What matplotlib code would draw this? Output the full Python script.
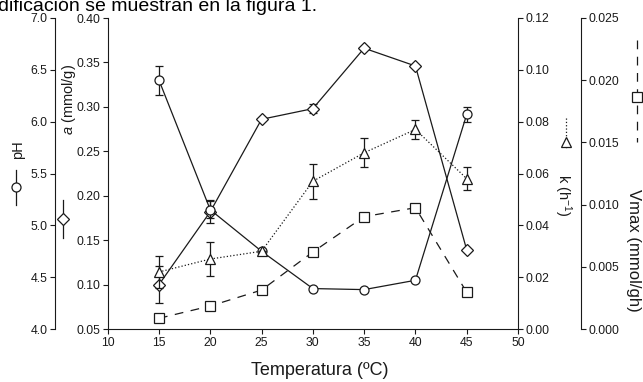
import matplotlib
matplotlib.use("Agg")
import matplotlib.pyplot as plt
from matplotlib.lines import Line2D

plt.rcParams['font.family'] = ['Liberation Sans', 'DejaVu Sans']
plt.rcParams['mathtext.fontset'] = 'custom'
plt.rcParams['mathtext.rm'] = 'Liberation Sans'
plt.rcParams['mathtext.it'] = 'Liberation Sans:italic'

# data
temp = [15, 20, 25, 30, 35, 40, 45]
ph = [6.40, 5.15, 4.75, 4.39, 4.38, 4.47, 6.07]
ph_err = [0.14, 0.08, 0.0, 0.0, 0.0, 0.0, 0.07]
a_val = [0.100, 0.182, 0.286, 0.298, 0.366, 0.346, 0.139]
a_err = [0.021, 0.013, 0.0, 0.005, 0.0, 0.0, 0.0]
k_val = [0.022, 0.027, 0.030, 0.057, 0.068, 0.077, 0.058]
k_err = [0.006, 0.0064, 0.0, 0.0067, 0.0056, 0.0035, 0.0045]
vmax = [0.00086, 0.00185, 0.00313, 0.00619, 0.00903, 0.00975, 0.00295]

W, H = 643, 382
INK = '#1a1a1a'


def fx(px):
    return px / W


def fy(py):
    return 1 - py / H


fig = plt.figure(figsize=(6.43, 3.82), dpi=100)
ax = fig.add_axes([fx(107.7), fy(329), fx(518) - fx(107.7), fy(18) - fy(329)])
ax_ph = ax.twinx()
ax_k = ax.twinx()
ax_v = ax.twinx()

# spine layout
for a in (ax, ax_ph, ax_k, ax_v):
    for s in a.spines.values():
        s.set_visible(False)
    a.tick_params(labelsize=8.8, length=3.5, width=0.8, colors=INK, pad=2)

ax.spines['left'].set_visible(True)
ax.spines['bottom'].set_visible(True)
ax_ph.spines['left'].set_visible(True)
ax_ph.spines['left'].set_position(('axes', -0.128))
ax_ph.yaxis.set_ticks_position('left')
ax_ph.yaxis.set_label_position('left')
ax_k.spines['right'].set_visible(True)
ax_v.spines['right'].set_visible(True)
ax_v.spines['right'].set_position(('axes', 1.153))
for a in (ax, ax_ph, ax_k, ax_v):
    for s in a.spines.values():
        s.set_linewidth(0.8)
        s.set_color(INK)

ax.set_xlim(10, 50)
ax.set_xticks(range(10, 51, 5))
ax.set_ylim(0.05, 0.40)
ax.set_yticks([0.05, 0.10, 0.15, 0.20, 0.25, 0.30, 0.35, 0.40])
ax.set_yticklabels([f'{v:.2f}' for v in ax.get_yticks()])
ax_ph.set_ylim(4.0, 7.0)
ax_ph.set_yticks([4.0, 4.5, 5.0, 5.5, 6.0, 6.5, 7.0])
ax_ph.set_yticklabels([f'{v:.1f}' for v in ax_ph.get_yticks()])
ax_k.set_ylim(0, 0.12)
ax_k.set_yticks([0, 0.02, 0.04, 0.06, 0.08, 0.10, 0.12])
ax_k.set_yticklabels([f'{v:.2f}' for v in ax_k.get_yticks()])
ax_v.set_ylim(0, 0.025)
ax_v.set_yticks([0, 0.005, 0.010, 0.015, 0.020, 0.025])
ax_v.set_yticklabels([f'{v:.3f}' for v in ax_v.get_yticks()])

ax.set_xlabel('Temperatura (ºC)', fontsize=13, color=INK, labelpad=12)
ax.xaxis.set_label_coords((320 - 107.7) / 410.3, -0.105)

mk = dict(mfc='white', mec=INK, mew=0.9, color=INK, lw=0.9,
          ecolor=INK, elinewidth=0.9, capsize=3.2, capthick=0.9)
ax_v.plot(temp, vmax, marker='s', ms=7, ls=(0, (7, 6)), color=INK, lw=0.9,
          mfc='white', mec=INK, mew=0.9)
ax_k.errorbar(temp, k_val, yerr=k_err, marker='^', ms=7, ls=':', **mk)
ax.errorbar(temp, a_val, yerr=a_err, marker='D', ms=6.3, ls='-', **mk)
ax_ph.errorbar(temp, ph, yerr=ph_err, marker='o', ms=6.5, ls='-', **mk)

# axis titles with their series symbols
fig.text(fx(18), fy(150), 'pH', rotation=90, ha='center', va='center', fontsize=10.5, color=INK)
fig.add_artist(Line2D([fx(16), fx(16)], [fy(170), fy(205)], transform=fig.transFigure,
                      color=INK, lw=0.9, marker=None))
fig.add_artist(Line2D([fx(16)], [fy(187)], transform=fig.transFigure, marker='o', ms=6.5,
                      mfc='white', mec=INK, mew=0.9, ls='none'))

fig.text(fx(69), fy(100), '$a$ (mmol/g)', rotation=90, ha='center', va='center', fontsize=10.5, color=INK)
fig.add_artist(Line2D([fx(63), fx(63)], [fy(200), fy(238)], transform=fig.transFigure,
                      color=INK, lw=0.9))
fig.add_artist(Line2D([fx(63)], [fy(219)], transform=fig.transFigure, marker='D', ms=6.3,
                      mfc='white', mec=INK, mew=0.9, ls='none'))

fig.text(fx(563), fy(195), 'k (h$^{-1}$)', rotation=-90, ha='center', va='center', fontsize=10.5, color=INK)
fig.add_artist(Line2D([fx(566), fx(566)], [fy(118), fy(148)], transform=fig.transFigure,
                      color=INK, lw=0.9, ls=':'))
fig.add_artist(Line2D([fx(566)], [fy(142)], transform=fig.transFigure, marker='^', ms=7,
                      mfc='white', mec=INK, mew=0.9, ls='none'))

fig.text(fx(633), fy(250), 'Vmax (mmol/gh)', rotation=-90, ha='center', va='center', fontsize=12, color=INK)
fig.add_artist(Line2D([fx(637), fx(637)], [fy(40), fy(142)], transform=fig.transFigure,
                      color=INK, lw=0.9, ls=(0, (7, 6))))
fig.add_artist(Line2D([fx(637)], [fy(97)], transform=fig.transFigure, marker='s', ms=7,
                      mfc='white', mec=INK, mew=0.9, ls='none'))

# cut-off line of the surrounding document text
fig.text(fx(-2), fy(11), 'dificación se muestran en la figura 1.', fontsize=14,
         ha='left', va='baseline', color='black')

fig.savefig('out.png', dpi=100)
